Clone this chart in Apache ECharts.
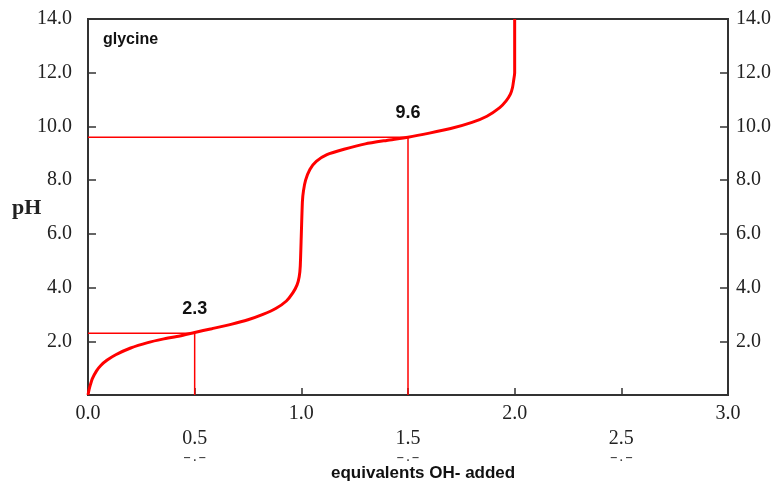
<!DOCTYPE html>
<html><head><meta charset="utf-8">
<script src="https://cdn.jsdelivr.net/npm/echarts@6/dist/echarts.min.js"></script>
<style>html,body{margin:0;padding:0;background:#fff}#c{width:781px;height:484px}</style>
</head><body><div id="c"></div>
<script>
// Titration curve: equivalents OH- added vs pH
const eqAdded = [0, 0.005, 0.01, 0.02, 0.04, 0.06, 0.09, 0.13, 0.2, 0.28, 0.35, 0.43, 0.5, 0.58, 0.67, 0.75, 0.82, 0.88, 0.93, 0.96, 0.98, 0.99, 0.995, 1.0, 1.005, 1.01, 1.02, 1.04, 1.07, 1.12, 1.2, 1.3, 1.4, 1.5, 1.6, 1.7, 1.8, 1.87, 1.93, 1.96, 1.98, 1.99, 1.995, 2.0, 2.0];
const pHValues = [0.0, 0.2, 0.35, 0.6, 0.9, 1.1, 1.3, 1.5, 1.75, 1.95, 2.08, 2.2, 2.33, 2.47, 2.63, 2.8, 3.0, 3.22, 3.5, 3.8, 4.1, 4.4, 4.8, 6.0, 7.2, 7.6, 8.0, 8.4, 8.7, 8.95, 9.15, 9.35, 9.48, 9.6, 9.75, 9.92, 10.15, 10.38, 10.7, 10.95, 11.2, 11.45, 11.7, 12.0, 14.0];
// pKa reference points
const pkaEq = [0.5, 1.5];
const pkaPH = [2.3, 9.6];
const pkaLabels = ['2.3', '9.6'];
const xTicks = ['0.0', '0.5', '1.0', '1.5', '2.0', '2.5', '3.0'];
const yTicks = ['', '2.0', '4.0', '6.0', '8.0', '10.0', '12.0', '14.0'];

const curve = eqAdded.map((x, i) => [x, pHValues[i]]);
const refSeries = pkaEq.map((x, i) => ({
  type: 'line', silent: true, symbol: 'none', z: 1,
  lineStyle: { color: '#ff0000', width: 1.5 },
  data: [[0, pkaPH[i]], [x, pkaPH[i]], [x, 0]],
  markPoint: {
    symbol: 'circle', symbolSize: 0, silent: true,
    data: [{ coord: [x, pkaPH[i]], value: pkaLabels[i] }],
    label: { show: true, position: 'top', distance: 15, formatter: p => p.value,
      fontFamily: 'Liberation Sans, Arial', fontWeight: 'bold', fontSize: 18, color: '#111' }
  }
}));
const serifLabel = { fontFamily: 'Liberation Serif', fontSize: 20, color: '#222' };
const yAxisBase = {
  type: 'value', min: 0, max: 14, interval: 2,
  axisLine: { show: true, lineStyle: { color: '#333', width: 2 } },
  axisTick: { show: true, inside: true, length: 8, lineStyle: { color: '#333', width: 1.5 } },
  splitLine: { show: false },
  axisLabel: Object.assign({}, serifLabel, { formatter: v => yTicks[Math.round(v / 2)] })
};
const chart = echarts.init(document.getElementById('c'));
chart.setOption({
  animation: false,
  grid: { left: 88, right: 53, top: 19, bottom: 89, show: true, borderColor: '#333', borderWidth: 2 },
  xAxis: {
    type: 'value', min: 0, max: 3, interval: 0.5,
    axisLine: { show: true, lineStyle: { color: '#333', width: 2 } },
    axisTick: { show: true, inside: true, length: 7, lineStyle: { color: '#333', width: 1.5 } },
    splitLine: { show: false },
    axisLabel: Object.assign({}, serifLabel, {
      margin: 6, lineHeight: 25,
      formatter: (v) => { const i = Math.round(v * 2); return i % 2 ? '\n' + xTicks[i] + '\n{s|‒ . ‒}' : xTicks[i]; },
      rich: { s: { fontSize: 11, color: '#444', lineHeight: 14, fontFamily: 'Liberation Sans', fontWeight: 'bold' } }
    })
  },
  yAxis: [
    Object.assign({}, yAxisBase, { position: 'left', axisLabel: Object.assign({}, yAxisBase.axisLabel, { margin: 16 }) }),
    Object.assign({}, yAxisBase, { position: 'right', axisLabel: Object.assign({}, yAxisBase.axisLabel, { margin: 8 }) })
  ],
  graphic: [
    { type: 'text', left: 103, top: 32, style: { text: 'glycine', font: 'bold 16px "Liberation Sans", Arial', fill: '#111' } },
    { type: 'text', left: 12, top: 197, style: { text: 'pH', font: 'bold 22px "Liberation Serif"', fill: '#222' } },
    { type: 'text', left: 331, top: 465, style: { text: 'equivalents OH- added', font: 'bold 17px "Liberation Sans", Arial', fill: '#111' } }
  ],
  series: refSeries.concat([
    { type: 'line', data: curve, symbol: 'none', smooth: 0.2, z: 3,
      lineStyle: { color: '#ff0000', width: 3 } }
  ])
});
</script></body></html>
